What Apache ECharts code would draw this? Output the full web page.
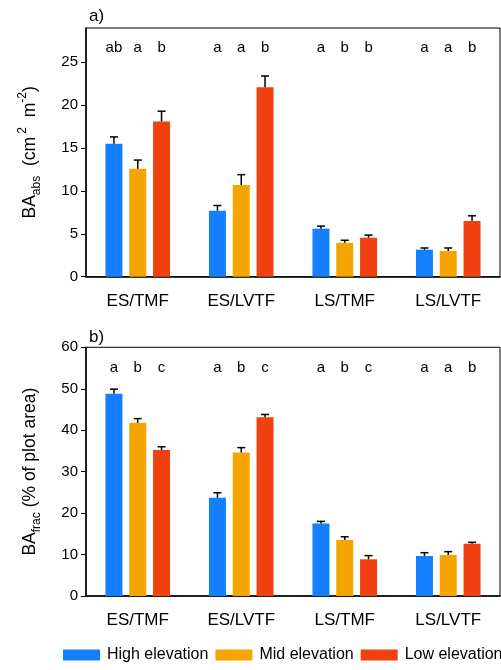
<!DOCTYPE html>
<html>
<head>
<meta charset="utf-8">
<script src="https://cdn.jsdelivr.net/npm/echarts@6/dist/echarts.min.js"></script>
<style>
html,body{margin:0;padding:0;background:#fff;}
#chart{width:501px;height:670px;}
</style>
</head>
<body>
<div id="chart"></div>
<script>
var categories = ['ES/TMF', 'ES/LVTF', 'LS/TMF', 'LS/LVTF'];
var seriesNames = ['High elevation', 'Mid elevation', 'Low elevation'];

// Panel a) BA_abs (cm2 m-2)
var absHigh = [15.5, 7.7, 5.6, 3.15];
var absMid  = [12.6, 10.7, 3.95, 3.0];
var absLow  = [18.1, 22.1, 4.55, 6.5];
var absHighErr = [0.8, 0.6, 0.3, 0.2];
var absMidErr  = [1.0, 1.2, 0.3, 0.35];
var absLowErr  = [1.2, 1.3, 0.3, 0.6];
var absLetters = [['ab','a','b'], ['a','a','b'], ['a','b','b'], ['a','a','b']];

// Panel b) BA_frac (% of plot area)
var fracHigh = [48.8, 23.7, 17.5, 9.65];
var fracMid  = [41.8, 34.6, 13.5, 9.9];
var fracLow  = [35.2, 43.1, 8.85, 12.6];
var fracHighErr = [1.1, 1.2, 0.5, 0.8];
var fracMidErr  = [1.0, 1.2, 0.8, 0.8];
var fracLowErr  = [0.8, 0.7, 0.9, 0.35];
var fracLetters = [['a','b','c'], ['a','b','c'], ['a','b','c'], ['a','a','b']];

var absTicks = [0, 5, 10, 15, 20, 25];
var fracTicks = [0, 10, 20, 30, 40, 50, 60];
var absLetterLevel = 26.7;
var fracLetterLevel = 55;

var colors = ['#1480ff', '#f5a500', '#ef4210'];
var FONT = 'Liberation Sans, Arial, sans-serif';
var BAR_W = 17;
var STEP = 23.8;

function errRender(k) {
  return function (params, api) {
    var c = api.value(0), v = api.value(1), e = api.value(2);
    var p0 = api.coord([c, v]);
    var p1 = api.coord([c, v + e]);
    var x = p0[0] + (k - 1) * STEP;
    return {
      type: 'group',
      children: [
        {type: 'line', shape: {x1: x, y1: p0[1], x2: x, y2: p1[1]}, style: {stroke: '#000', lineWidth: 1.5}},
        {type: 'line', shape: {x1: x - 4, y1: p1[1], x2: x + 4, y2: p1[1]}, style: {stroke: '#000', lineWidth: 1.5}}
      ]
    };
  };
}
function letterRender(params, api) {
  var c = api.value(0), lvl = api.value(1), k = api.value(2);
  var p = api.coord([c, lvl]);
  return {
    type: 'text',
    x: p[0] + (k - 1) * STEP,
    y: p[1],
    style: {text: api.value(3), fill: '#000', font: '15px ' + FONT, align: 'center', verticalAlign: 'middle'}
  };
}
function errData(vals, errs) {
  return vals.map(function (v, i) { return [i, v, errs[i]]; });
}
function letterData(letters, lvl) {
  var out = [];
  letters.forEach(function (grp, i) {
    grp.forEach(function (l, k) { out.push([i, lvl, k, l]); });
  });
  return out;
}

function makeX(idx) {
  return {
    type: 'category', gridIndex: idx, data: categories,
    axisLine: {lineStyle: {color: '#000', width: 1.5}},
    axisTick: {alignWithLabel: true, length: 5, lineStyle: {color: '#000'}},
    axisLabel: {color: '#000', fontSize: 17, fontFamily: FONT, margin: 16},
    splitLine: {show: false}
  };
}
var yNameRich = {
  n: {fontSize: 17.5, fontFamily: FONT, color: '#000', lineHeight: 26},
  sub: {fontSize: 12, fontFamily: FONT, color: '#000', lineHeight: 13, verticalAlign: 'bottom'},
  sup: {fontSize: 12, fontFamily: FONT, color: '#000', lineHeight: 13, verticalAlign: 'top'}
};
function makeY(idx, max, ticks, name) {
  return {
    type: 'value', gridIndex: idx, min: 0, max: max, interval: ticks[1] - ticks[0],
    name: name, nameLocation: 'middle', nameRotate: 90, nameGap: 43,
    nameTextStyle: {rich: yNameRich},
    axisLine: {show: true, lineStyle: {color: '#000', width: 1.5}},
    axisTick: {show: true, length: 5, lineStyle: {color: '#000'}, customValues: ticks},
    axisLabel: {color: '#000', fontSize: 15, fontFamily: FONT, margin: 8, customValues: ticks},
    splitLine: {show: false}
  };
}

var series = [];
var barSets = [[absHigh, absMid, absLow], [fracHigh, fracMid, fracLow]];
var errSets = [[absHighErr, absMidErr, absLowErr], [fracHighErr, fracMidErr, fracLowErr]];
[0, 1].forEach(function (g) {
  barSets[g].forEach(function (vals, k) {
    series.push({
      type: 'bar', name: seriesNames[k], xAxisIndex: g, yAxisIndex: g,
      data: vals, barWidth: BAR_W, barGap: '40%',
      itemStyle: {color: colors[k]}, z: 2
    });
  });
  errSets[g].forEach(function (errs, k) {
    series.push({
      type: 'custom', name: 'err' + g + k, xAxisIndex: g, yAxisIndex: g,
      renderItem: errRender(k), data: errData(barSets[g][k], errs), z: 5, silent: true
    });
  });
  series.push({
    type: 'custom', name: 'letters' + g, xAxisIndex: g, yAxisIndex: g,
    renderItem: letterRender,
    data: letterData(g === 0 ? absLetters : fracLetters, g === 0 ? absLetterLevel : fracLetterLevel),
    z: 6, silent: true
  });
});

var chart = echarts.init(document.getElementById('chart'), null, {renderer: 'canvas'});
chart.setOption({
  backgroundColor: '#fff',
  animation: false,
  textStyle: {fontFamily: FONT},
  title: [
    {text: 'a)', left: 84, top: 3, textStyle: {fontSize: 17, fontWeight: 'normal', color: '#000', fontFamily: FONT}},
    {text: 'b)', left: 84, top: 324, textStyle: {fontSize: 17, fontWeight: 'normal', color: '#000', fontFamily: FONT}}
  ],
  grid: [
    {left: 86, right: 1, top: 28, height: 248.7, show: true, borderColor: '#000', borderWidth: 1, containLabel: false},
    {left: 86, right: 1, top: 347.3, height: 248.7, show: true, borderColor: '#000', borderWidth: 1, containLabel: false}
  ],
  xAxis: [makeX(0), makeX(1)],
  yAxis: [
    makeY(0, 29, absTicks, '{n|BA}{sub|abs}{n|  (cm}{sup| 2}{n|  m}{sup|-2}{n|)}'),
    makeY(1, 60, fracTicks, '{n|BA}{sub|frac}{n| (% of plot area)}')
  ],
  legend: {
    data: seriesNames, left: 63, top: 647, width: 440, padding: 0,
    icon: 'rect', itemWidth: 37, itemHeight: 11, itemGap: 7,
    textStyle: {fontSize: 16, color: '#000', fontFamily: FONT, padding: [0, 0, 0, 2]}
  },
  series: series
});
</script>
</body>
</html>
